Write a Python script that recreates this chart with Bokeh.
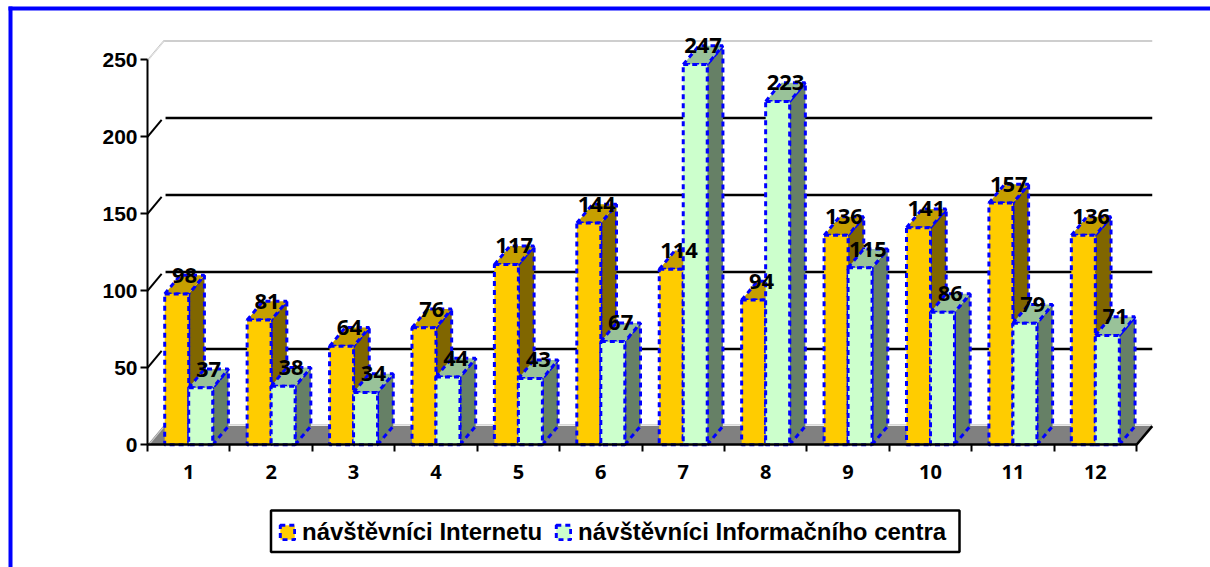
from bokeh.plotting import figure
from bokeh.embed import file_html
from bokeh.resources import INLINE
from bokeh.core.properties import value
from bokeh.models import FixedTicker, Legend, LegendItem, Range1d

months = [1, 2, 3, 4, 5, 6, 7, 8, 9, 10, 11, 12]
internet = [98, 81, 64, 76, 117, 144, 114, 94, 136, 141, 157, 136]
info_centre = [37, 38, 34, 44, 43, 67, 247, 223, 115, 86, 79, 71]
y_ticks = [0, 50, 100, 150, 200, 250]
grid_values = [50, 100, 150, 200]
series_names = ["návštěvníci Internetu", "návštěvníci Informačního centra"]

# pixel calibration of the chart
PX_X = 82.42
PX_Y = 1.54
X0_PX, Y0_PX = 147.0, 444.3
FIG_W, FIG_H = 1210, 567
DX = 15.7 / PX_X      # 3-D depth, in category units
DY = 18.7 / PX_Y      # 3-D depth, in value units
BW = 24.0 / PX_X


def px_x(px):
    return 0.5 + (px - X0_PX) / PX_X


def px_y(px):
    return (Y0_PX - px) / PX_Y


p = figure(width=FIG_W, height=FIG_H, output_backend="svg", toolbar_location=None,
           min_border=0, outline_line_color=None, background_fill_color="white",
           border_fill_color="white",
           x_range=Range1d(px_x(0), px_x(FIG_W)),
           y_range=Range1d(px_y(FIG_H), px_y(0)))
p.grid.visible = False

# blue page frame: top and left edges only
p.line([px_x(8), px_x(FIG_W)], [px_y(8), px_y(8)], line_color="#0000FF", line_width=4)
p.line([px_x(10), px_x(10)], [px_y(6), px_y(FIG_H)], line_color="#0000FF", line_width=4)

x_min, x_max = 0.5, 12.5
top = y_ticks[-1]

# floor
p.patch([x_min, x_min + DX, x_max + DX, x_max], [0, DY, DY, 0], fill_color="#808080", line_color=None)
p.line([x_min + DX, x_max + DX], [DY + 0.8, DY + 0.8], line_color="#C0C0C0", line_width=1)
p.line([x_min + 0.015, x_min + DX + 0.015], [0, DY], line_color="#C8C8C8", line_width=1.2)
p.line([x_max, x_max + DX], [0, DY], line_color="black", line_width=2.5)

# walls
p.line([x_min + DX, x_max + DX], [top + DY, top + DY], line_color="#BEBEBE", line_width=1.5)
p.line([x_min, x_min + DX], [top, top + DY], line_color="#C8C8C8", line_width=1)
p.line([x_min + 0.015, x_min + DX + 0.015], [top, top + DY], line_color="#D8D8D8", line_width=1)

# gridlines on the back wall and their diagonal legs
p.multi_line([[x_min + DX * 1.15, x_max + DX] for _ in grid_values],
             [[v + DY, v + DY] for v in grid_values], line_color="black", line_width=2.5)
p.multi_line([[x_min, x_min + DX * 0.9] for _ in grid_values],
             [[v, v + DY * 0.9] for v in grid_values], line_color="black", line_width=2)

OUT = dict(line_color="#0000FF", line_width=3, line_dash="5 4")


def bars(vals, left_off, front, side, cap):
    lefts = [m + left_off for m in months]
    rights = [l + BW for l in lefts]
    p.patches([[r, r + DX, r + DX, r] for r in rights],
              [[0, DY, v + DY, v] for v in vals], fill_color=side, **OUT)
    p.patches([[l, l + DX, r + DX, r] for l, r in zip(lefts, rights)],
              [[v, v + DY, v + DY, v] for v in vals], fill_color=cap, **OUT)
    return p.quad(left=lefts, right=rights, bottom=[0] * len(vals), top=vals, fill_color=front, **OUT)


r1 = bars(internet, -BW, "#FFCC00", "#806600", "#C69F00")
r2 = bars(info_centre, 0, "#CCFFCC", "#668066", "#99C299")

# axes
xa = p.xaxis[0]
xa.fixed_location = 0
xa.bounds = (x_min, x_max)
xa.ticker = FixedTicker(ticks=months, minor_ticks=[m - 0.5 for m in months] + [x_max])
xa.major_tick_line_color = None
xa.major_tick_in = 0
xa.major_tick_out = 0
xa.minor_tick_in = 0
xa.minor_tick_out = 7
xa.minor_tick_line_color = "black"
xa.minor_tick_line_width = 2
xa.axis_line_color = "black"
xa.axis_line_width = 2.5
xa.major_label_overrides = {m: str(m) for m in months}
xa.major_label_text_font = "Open Sans"
xa.major_label_text_font_style = "bold"
xa.major_label_text_font_size = "20px"
xa.major_label_text_color = "black"
xa.major_label_standoff = 13

ya = p.yaxis[0]
ya.fixed_location = x_min
ya.bounds = (0, top)
ya.ticker = FixedTicker(ticks=y_ticks)
ya.major_tick_in = 0
ya.major_tick_out = 7
ya.major_tick_line_width = 2
ya.major_tick_line_color = "black"
ya.minor_tick_line_color = None
ya.axis_line_color = "black"
ya.axis_line_width = 2
ya.major_label_text_font = "Liberation Sans"
ya.major_label_text_font_style = "bold"
ya.major_label_text_font_size = "21px"
ya.major_label_text_color = "black"
ya.major_label_standoff = 3

# data labels
lab_x = [m + off + BW / 2 + DX / 2 for off in (-BW, 0) for m in months]
lab_y = [v + DY * 1.0 for v in internet + info_centre]
lab_t = [str(v) for v in internet + info_centre]
p.text(lab_x, lab_y, text=lab_t, text_align="center", text_baseline="middle",
       text_font=value("Open Sans"), text_font_style="bold", text_font_size="22px", text_color="black")

# legend box and legend
p.quad(left=[px_x(270.5)], right=[px_x(959)], top=[px_y(510)], bottom=[px_y(551.5)],
       fill_color="white", line_color="black", line_width=2.5)
legend = Legend(items=[LegendItem(label=series_names[0], renderers=[r1]),
                       LegendItem(label=series_names[1], renderers=[r2])],
                orientation="horizontal", location=(278, 21.5), padding=8, margin=0,
                spacing=12, glyph_width=18, glyph_height=18, label_standoff=6,
                label_text_font="Liberation Sans", label_text_font_style="bold",
                label_text_font_size="24px", label_text_color="black",
                border_line_color=None, background_fill_alpha=0)
p.add_layout(legend, "center")

open("out.html", "w").write(file_html(p, INLINE))
